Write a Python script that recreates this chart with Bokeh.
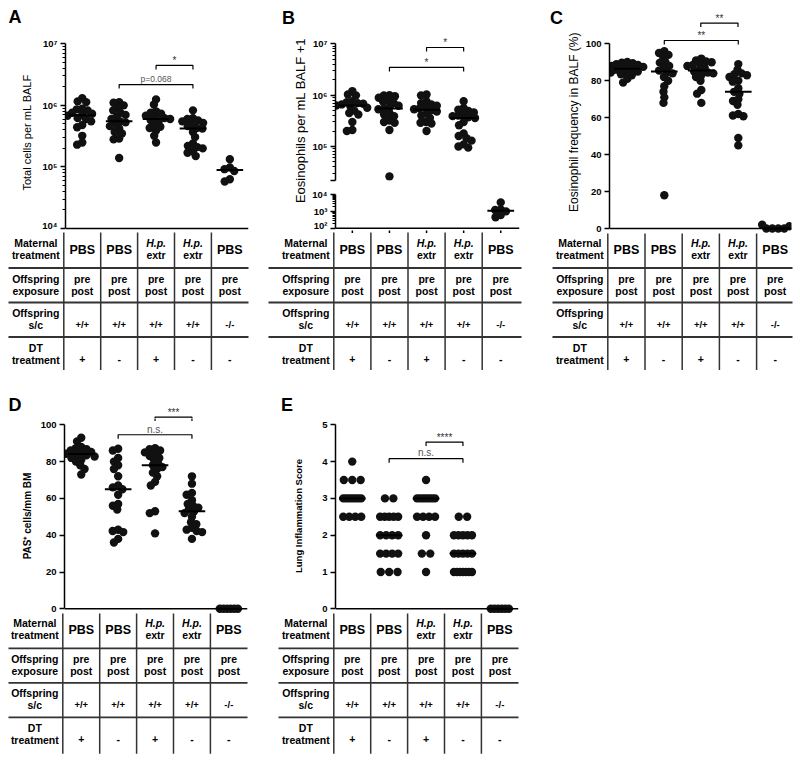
import math
import numpy as np
from bokeh.plotting import figure
from bokeh.models import Range1d, FixedTicker, Span
from bokeh.layouts import row, column
from bokeh.core.properties import value
from bokeh.embed import file_html
from bokeh.resources import INLINE

FONT = "Liberation Sans"

# ---------------- data ----------------
groups = [1, 2, 3, 4, 5]

# A: total cells per mL BALF
total_cells_g1 = [1.31e6, 1.16e6, 1.13e6, 8.8e5, 8.6e5, 8.3e5, 7.6e5, 7.3e5, 7.0e5, 6.8e5, 6.2e5, 6.0e5, 5.5e5, 4.8e5, 4.4e5, 3.2e5, 2.5e5, 2.3e5]
total_cells_g2 = [1.13e6, 1.1e6, 1.0e6, 9.2e5, 8.3e5, 7.6e5, 7.0e5, 6.5e5, 6.0e5, 5.5e5, 5.3e5, 5.0e5, 4.6e5, 4.2e5, 3.7e5, 3.5e5, 2.9e5, 2.8e5, 1.4e5]
total_cells_g3 = [1.25e6, 1.03e6, 8.0e5, 7.6e5, 7.3e5, 6.8e5, 6.5e5, 6.2e5, 6.0e5, 5.8e5, 5.5e5, 4.8e5, 4.5e5, 4.3e5, 3.9e5, 3.2e5, 2.5e5]
total_cells_g4 = [8.3e5, 6.2e5, 6.0e5, 5.7e5, 5.5e5, 5.2e5, 5.0e5, 4.6e5, 4.3e5, 4.2e5, 3.7e5, 3.05e5, 2.4e5, 2.2e5, 2.1e5, 2.0e5, 1.8e5, 1.7e5, 1.5e5]
total_cells_g5 = [1.33e5, 9.8e4, 9.2e4, 8.6e4, 6.3e4, 5.8e4]
total_cells = [total_cells_g1, total_cells_g2, total_cells_g3, total_cells_g4, total_cells_g5]

# B: eosinophils per mL BALF + 1
eos_g1 = [1.2e6, 1.03e6, 9.9e5, 7.6e5, 7.3e5, 7.0e5, 6.8e5, 6.6e5, 6.3e5, 6.0e5, 5.7e5, 5.0e5, 4.5e5, 4.2e5, 3.0e5, 2.1e5, 2.0e5]
eos_g2 = [1.0e6, 9.9e5, 9.5e5, 8.9e5, 7.8e5, 7.5e5, 7.0e5, 6.2e5, 5.8e5, 5.5e5, 5.3e5, 4.5e5, 4.2e5, 3.9e5, 3.2e5, 3.0e5, 2.9e5, 2.1e5, 2.6e4]
eos_g3 = [1.03e6, 9.9e5, 7.5e5, 7.0e5, 6.6e5, 6.2e5, 5.8e5, 5.5e5, 5.3e5, 5.1e5, 4.8e5, 4.4e5, 4.0e5, 3.6e5, 3.0e5, 2.9e5, 2.8e5, 2.0e5]
eos_g4 = [7.6e5, 5.6e5, 5.2e5, 4.9e5, 4.6e5, 4.3e5, 4.0e5, 3.9e5, 3.7e5, 3.6e5, 3.0e5, 2.6e5, 1.8e5, 1.6e5, 1.45e5, 1.3e5, 1.1e5, 1.0e5, 9.5e4]
eos_g5 = [3.4e3, 1.3e3, 1.2e3, 1.0e3, 6.0e2, 4.5e2]
eosinophils = [eos_g1, eos_g2, eos_g3, eos_g4, eos_g5]

# C: eosinophil frequency in BALF (%)
freq_g1 = [90.2, 89.8, 89.5, 89.0, 88.5, 88.0, 87.5, 87.0, 86.8, 86.2, 86.0, 85.0, 84.5, 84.0, 83.5, 83.0, 81.0, 79.0]
freq_g2 = [96, 95, 94, 93, 90.2, 89.8, 88, 87, 85.5, 84.5, 84, 82, 80, 77, 74, 71, 68, 18]
freq_g3 = [92, 91, 90.5, 90, 89, 88.5, 88, 87, 86, 85, 84.5, 84, 83, 82, 80, 75, 73, 68]
freq_g4 = [89, 86, 84, 83.5, 83, 82, 80, 79.5, 76, 74, 73, 70, 69, 67, 62, 61.2, 60.8, 49, 45]
freq_g5 = [0, 0, 0, 0, 1.2, 2.0]
eos_freq = [freq_g1, freq_g2, freq_g3, freq_g4, freq_g5]

# D: PAS+ cells / mm BM
pas_g1 = [93, 91, 88, 87.3, 86.8, 86, 85.2, 84.6, 84.3, 83.9, 83.4, 82.8, 82, 81, 80, 78, 76, 73]
pas_g2 = [87, 86, 82, 80, 78, 76, 72, 67, 66, 65, 62, 57, 56, 54, 43, 42.3, 41.7, 38, 36]
pas_g3 = [87.3, 86.7, 86, 85, 84, 83, 82, 81, 79, 78, 77, 76, 74, 72, 69, 67, 53, 52, 41]
pas_g4 = [72, 68, 63, 62, 59, 57, 56, 55, 54, 53, 52, 50, 47, 46, 44, 43, 42.3, 41.7, 38]
pas_g5 = [0, 0, 0, 0, 0, 0]
pas_cells = [pas_g1, pas_g2, pas_g3, pas_g4, pas_g5]

# E: lung inflammation score
score_g1 = [4.0, 3.5, 3.5, 3.5, 3.0, 3.0, 3.0, 3.0, 3.0, 3.0, 3.0, 3.0, 2.5, 2.5, 2.5, 2.5]
score_g2 = [3.0, 3.0, 2.5, 2.5, 2.5, 2.5, 2.5, 2.0, 2.0, 2.0, 2.0, 1.5, 1.5, 1.5, 1.5, 1.0, 1.0, 1.0]
score_g3 = [3.5, 3.0, 3.0, 3.0, 3.0, 3.0, 3.0, 3.0, 3.0, 2.5, 2.5, 2.5, 2.5, 2.0, 1.5, 1.5, 1.0]
score_g4 = [2.5, 2.5, 2.0, 2.0, 2.0, 2.0, 2.0, 1.5, 1.5, 1.5, 1.5, 1.5, 1.0, 1.0, 1.0, 1.0, 1.0, 1.0, 1.0]
score_g5 = [0, 0, 0, 0, 0, 0]
inflammation = [score_g1, score_g2, score_g3, score_g4, score_g5]

# significance brackets: (group a, group b, bracket level, text)
sig_a = [(3, 4, 4.45e6, "*"), (2, 4, 2.18e6, "p=0.068")]
sig_b = [(3, 4, 8.47e6, "*"), (2, 4, 3.46e6, "*")]
sig_c = [(3, 4, 111.2, "**"), (2, 4, 101.8, "**")]
sig_d = [(3, 4, 104.2, "***"), (2, 4, 94.6, "n.s.")]
sig_e = [(3, 4, 4.53, "****"), (2, 4, 4.08, "n.s.")]

# table below each panel
row_labels = [["Maternal", "treatment"], ["Offspring", "exposure"], ["Offspring", "s/c"], ["DT", "treatment"]]
maternal_treatment = ["PBS", "PBS", "H.p. extr", "H.p. extr", "PBS"]
offspring_exposure = ["pre post", "pre post", "pre post", "pre post", "pre post"]
offspring_sc = ["+/+", "+/+", "+/+", "+/+", "-/-"]
dt_treatment = ["+", "-", "+", "-", "-"]

# ---------------- geometry (page pixels) ----------------
GEO = {
    "A": dict(left=0, width=264, col0=63.3, ppu=36.9, axis=65, right=248, tleft=8, tright=248, base=228.0),
    "B": dict(left=264, width=280, col0=333.3, ppu=37.1, axis=335, right=519, tleft=268, tright=521, base=228.0),
    "C": dict(left=544, width=256, col0=607.3, ppu=37.2, axis=608, right=791, tleft=552, tright=792, base=228.0),
    "D": dict(left=0, width=264, col0=62.3, ppu=36.9, axis=64, right=247, tleft=8, tright=247, base=608.3),
    "E": dict(left=264, width=280, col0=333.3, ppu=36.9, axis=335, right=518, tleft=278, tright=518, base=608.3),
}
DOT = 8.4
SWARM_D = 5.6
ROW_LINES = [39.5, 74.0, 108.5]
COMMON = dict(output_backend="svg", toolbar_location=None, background_fill_color="white",
              border_fill_color="white", outline_line_color=None, frame_align=False)


def lin_scale(v1, p1, v2, p2):
    k = (p2 - p1) / (v2 - v1)
    return (lambda v: p1 + (v - v1) * k), (lambda px: v1 + (px - p1) / k)


def log_scale(e1, p1, e2, p2):
    tp, tv = lin_scale(e1, p1, e2, p2)
    return (lambda v: tp(math.log10(v))), (lambda px: 10 ** tv(px))


def px_to_x(g, px):
    return 0.5 + (px - g["col0"]) / g["ppu"]


def sub_geo(g, left, width):
    h = dict(g)
    h["left"] = left
    h["width"] = width
    return h


def swarm(ypx, d=SWARM_D, wrow=18.0):
    n = len(ypx)
    off = [None] * n
    ties = {}
    for i, y in enumerate(ypx):
        ties.setdefault(round(y, 4), []).append(i)
    placed = []
    for idx in ties.values():
        if len(idx) > 1:
            s = min(DOT, wrow / (len(idx) - 1))
            for k, i in enumerate(idx):
                off[i] = (k - (len(idx) - 1) / 2) * s
                placed.append((off[i], ypx[i]))
    for i in sorted(range(n), key=lambda j: ypx[j]):
        if off[i] is not None:
            continue
        y = ypx[i]
        cands = [0.0]
        for px, py in placed:
            dy = abs(y - py)
            if dy < d:
                dx = math.sqrt(d * d - dy * dy)
                cands += [px + dx, px - dx]
        cands.sort(key=lambda c: (abs(c), c))
        for c in cands:
            if all((c - px) ** 2 + (y - py) ** 2 >= d * d - 1e-6 for px, py in placed):
                off[i] = c
                break
        placed.append((off[i], y))
    return off


def full_fig(g, top, bottom, y_start, y_end):
    h = round(bottom - top)
    f = figure(width=g["width"], height=h,
               x_range=Range1d(px_to_x(g, g["left"]), px_to_x(g, g["left"] + g["width"])),
               y_range=Range1d(y_start, y_end),
               x_axis_location=None, y_axis_location=None, min_border=0, **COMMON)
    f.grid.visible = False
    return f


def make_scatter(g, fig_top, fig_bot, frame_top, frame_bot, to_v, log):
    bl = round(g["axis"] - g["left"])
    br = round(g["left"] + g["width"] - g["right"])
    fl = g["left"] + bl
    fr = g["left"] + g["width"] - br
    h = round(fig_bot - fig_top)
    bt = round(frame_top - fig_top)
    bb = round(fig_bot - frame_bot)
    ft = fig_top + bt
    fb = fig_top + h - bb
    p = figure(width=g["width"], height=h,
               x_range=Range1d(px_to_x(g, fl), px_to_x(g, fr)),
               y_range=Range1d(to_v(fb), to_v(ft)),
               y_axis_type="log" if log else "linear", x_axis_location=None,
               min_border_left=bl, min_border_right=br, min_border_top=bt, min_border_bottom=bb,
               **COMMON)
    p.grid.visible = False
    return p, (ft, fb)


def style_y(p, ticks, minor, overrides, bounds, label, label_size, label_style, standoff):
    ax = p.yaxis[0]
    ax.ticker = FixedTicker(ticks=ticks, minor_ticks=minor)
    if overrides:
        ax.major_label_overrides = overrides
    ax.bounds = bounds
    ax.axis_line_color = "black"
    ax.axis_line_width = 1.5
    ax.major_tick_line_color = "black"
    ax.major_tick_line_width = 1.5
    ax.major_tick_out = 5
    ax.major_tick_in = 0
    ax.minor_tick_line_color = "black"
    ax.minor_tick_line_width = 1
    ax.minor_tick_out = 3
    ax.minor_tick_in = 0
    ax.major_label_text_font = FONT
    ax.major_label_text_font_size = "9.5px"
    ax.major_label_text_font_style = "bold"
    ax.major_label_text_color = "black"
    ax.major_label_standoff = 3
    if label:
        ax.axis_label = label
        ax.axis_label_text_font = FONT
        ax.axis_label_text_font_size = label_size
        ax.axis_label_text_font_style = label_style
        ax.axis_label_text_color = "black"
        ax.axis_label_standoff = standoff


def draw_groups(p, g, data, to_px):
    for gi, vals in zip(groups, data):
        offs = swarm([to_px(v) for v in vals])
        xs = [gi + o / g["ppu"] for o in offs]
        p.scatter(xs, vals, size=DOT, fill_color="#111111", line_color=None)
        med = float(np.median(vals))
        p.segment(x0=[gi - 0.36], x1=[gi + 0.36], y0=[med], y1=[med], line_color="black", line_width=2)


def draw_brackets(p, sigs, to_px, to_v, frame_px):
    # lines are drawn in every strip (clipped); each label only where it fits entirely
    top_px, bot_px = frame_px
    for ga, gb, level, txt_ in sigs:
        ly = to_px(level)
        lv = to_v(ly)
        drop = to_v(ly + 4)
        p.multi_line(xs=[[ga, ga, gb, gb]], ys=[[drop, lv, lv, drop]], line_color="black", line_width=1.2)
        star = set(txt_) == {"*"}
        mid = ly - 4.9 if star else ly - 5.7
        if mid - 5.6 >= top_px and mid + 5.6 <= bot_px:
            p.text(x=[(ga + gb) / 2], y=[to_v(mid)], text=[txt_], text_align="center",
                   text_baseline="middle", text_font=value(FONT),
                   text_font_size="10px" if txt_ != "p=0.068" else "8.5px",
                   text_color="#333333" if star else "#555555")


def make_head(g, top, bottom, ch, lx, lmid, sigs, to_px):
    f = full_fig(g, top, bottom, bottom, top)
    f.text(x=[px_to_x(g, lx)], y=[lmid], text=[ch], text_align="left", text_baseline="middle",
           text_font=value(FONT), text_font_size="18px", text_font_style="bold", text_color="black")
    draw_brackets(f, sigs, to_px, lambda px: px, (top, bottom))
    return f


def make_ylabel(left, width, top, bottom, text, cx, cy, size):
    f = figure(width=width, height=round(bottom - top), x_range=Range1d(left, left + width),
               y_range=Range1d(bottom, top), x_axis_location=None, y_axis_location=None,
               min_border=0, **COMMON)
    f.grid.visible = False
    f.text(x=[cx], y=[cy], text=[text], angle=math.pi / 2, text_align="center", text_baseline="middle",
           text_font=value(FONT), text_font_size=size, text_color="black")
    return f


def txt(t, x, y, s, size, style="bold"):
    t.text(x=[x], y=[y], text=[s], text_align="center", text_baseline="middle",
           text_font=value(FONT), text_font_size=size, text_font_style=style, text_color="black")


def make_table(g, fig_top, fig_bot, center_ticks=False):
    h = round(fig_bot - fig_top)
    t = full_fig(g, fig_top, fig_bot, fig_top + h - g["base"], fig_top - g["base"])
    tl = px_to_x(g, g["tleft"])
    tr = px_to_x(g, g["tright"])
    t.segment(x0=[tl] * 3, x1=[tr] * 3, y0=ROW_LINES, y1=ROW_LINES, line_color="#333333", line_width=1.8)
    cols = [0.5, 1.5, 2.5, 3.5, 4.5]
    t.segment(x0=cols, x1=cols, y0=[4] * 5, y1=[145] * 5, line_color="#333333", line_width=1.5)
    if center_ticks:
        t.segment(x0=groups, x1=groups, y0=[0] * 5, y1=[4.5] * 5, line_color="black", line_width=1.5)
    lx = 0.5 - 28 / g["ppu"]
    for (l1, l2), (y1, y2) in zip(row_labels, [(14, 26.5), (50, 62), (84, 96), (119, 131)]):
        txt(t, lx, y1, l1, "10.5px")
        txt(t, lx, y2, l2, "10.5px")
    for gi, m, e, s, d in zip(groups, maternal_treatment, offspring_exposure, offspring_sc, dt_treatment):
        if " " in m:
            a, b = m.split(" ")
            txt(t, gi, 14, a, "10.5px", "bold italic")
            txt(t, gi, 26.5, b, "10.5px")
        else:
            txt(t, gi, 21, m, "12.5px")
        e1, e2 = e.split(" ")
        txt(t, gi, 50, e1, "10.5px")
        txt(t, gi, 62, e2, "10.5px")
        txt(t, gi, 95.5, s, "9.5px")
        txt(t, gi, 130.5, d, "10.5px")
    return t


SUP = {2: "10\u00b2", 3: "10\u00b3", 4: "10\u2074", 5: "10\u2075", 6: "10\u2076", 7: "10\u2077"}

# ---------------- panel A ----------------
gA = GEO["A"]
a_px, a_v = log_scale(7, 43.3, 4, 228.0)
ha = make_head(gA, 0, 34, "A", 8, 16.5, sig_a, a_px)
pa, fa = make_scatter(gA, 34, 230, 34, 230, a_v, True)
style_y(pa, [1e4, 1e5, 1e6, 1e7], [m * 10 ** e for e in (4, 5, 6) for m in range(2, 10)],
        {10 ** e: SUP[e] for e in (4, 5, 6, 7)}, (1e4, 1e7),
        "Total cells per mL BALF", "11px", "normal", 6)
pa.add_layout(Span(location=1e4, dimension="width", line_color="black", line_width=1.5))
draw_groups(pa, gA, total_cells, a_px)
draw_brackets(pa, sig_a, a_px, a_v, fa)
ta = make_table(gA, 230, 370)

# ---------------- panel B (broken log axis) ----------------
gB = GEO["B"]
gBp = sub_geo(gB, 309, 235)
bu_px, bu_v = log_scale(7, 43.3, 5, 146.0)
bl_px, bl_v = log_scale(4, 194.0, 2, 227.7)
b_px = lambda v: bu_px(v) if v >= 1e4 else bl_px(v) + 200
hb = make_head(gB, 0, 34, "B", 281.5, 17.2, sig_b, bu_px)
lab_b = make_ylabel(264, 45, 34, 230, "Eosinophils per mL BALF +1", 299.5, 120, "13px")
pbu, fbu = make_scatter(gBp, 34, 187, 34, bu_px(22000), bu_v, True)
style_y(pbu, [22000, 1e5, 1e6, 1e7],
        [m * 10 ** e for e in (5, 6) for m in range(2, 10)] + [m * 10 ** 4 for m in range(3, 10)],
        {22000: "", 100000: SUP[5], 1000000: SUP[6], 10000000: SUP[7]}, (22000, 1e7),
        None, None, None, 0)
draw_groups(pbu, gBp, eosinophils, b_px)
draw_brackets(pbu, sig_b, bu_px, bu_v, fbu)
pbl, fbl = make_scatter(gBp, 187, 230, 194, 230, bl_v, True)
style_y(pbl, [1e2, 1e3, 1e4], [m * 10 ** e for e in (2, 3) for m in range(2, 10)],
        {100: SUP[2], 1000: SUP[3], 10000: SUP[4]}, (1e2, 1e4), None, None, None, 0)
pbl.add_layout(Span(location=1e2, dimension="width", line_color="black", line_width=1.5))
draw_groups(pbl, gBp, eosinophils, b_px)
tb = make_table(gB, 230, 370, center_ticks=True)

# ---------------- panel C ----------------
gC = GEO["C"]
gCp = sub_geo(gC, 582, 218)
c_px, c_v = lin_scale(100, 43.3, 0, 228.0)
hc = make_head(gC, 0, 28, "C", 549.5, 17.2, sig_c, c_px)
lab_c = make_ylabel(544, 38, 28, 233, "Eosinophil frequency in BALF (%)", 573.3, 121.7, "12px")
pc, fc = make_scatter(gCp, 28, 233, 28, 233, c_v, False)
style_y(pc, [0, 20, 40, 60, 80, 100], [], None, (0, 100), None, None, None, 0)
pc.add_layout(Span(location=0, dimension="width", line_color="black", line_width=1.5))
draw_groups(pc, gCp, eos_freq, c_px)
draw_brackets(pc, sig_c, c_px, c_v, fc)
tc = make_table(gC, 233, 370)

# ---------------- panel D ----------------
gD = GEO["D"]
d_px, d_v = lin_scale(100, 424.3, 0, 608.3)
hd = make_head(gD, 370, 418, "D", 8, 404, sig_d, d_px)
pd_, fd = make_scatter(gD, 418, 613, 418, 613, d_v, False)
style_y(pd_, [0, 20, 40, 60, 80, 100], [], None, (0, 100),
        "PAS\u207a cells/mm BM", "10px", "bold", 5)
pd_.add_layout(Span(location=0, dimension="width", line_color="black", line_width=1.5))
draw_groups(pd_, gD, pas_cells, d_px)
draw_brackets(pd_, sig_d, d_px, d_v, fd)
td = make_table(gD, 613, 762)

# ---------------- panel E ----------------
gE = GEO["E"]
e_px, e_v = lin_scale(5, 424.3, 0, 608.3)
he = make_head(gE, 370, 418, "E", 280.5, 404, sig_e, e_px)
pe, fe = make_scatter(gE, 418, 613, 418, 613, e_v, False)
style_y(pe, [0, 1, 2, 3, 4, 5], [], None, (0, 5),
        "Lung Inflammation Score", "9.5px", "bold", 15)
pe.add_layout(Span(location=0, dimension="width", line_color="black", line_width=1.5))
draw_groups(pe, gE, inflammation, e_px)
draw_brackets(pe, sig_e, e_px, e_v, fe)
te = make_table(gE, 613, 762)

col_a = column(ha, pa, ta)
col_b = column(hb, row(lab_b, column(pbu, pbl)), tb)
col_c = column(hc, row(lab_c, pc), tc)
top = row(col_a, col_b, col_c)
bottom = row(column(hd, pd_, td), column(he, pe, te))
layout = column(top, bottom)

open("out.html", "w").write(file_html(layout, INLINE))
